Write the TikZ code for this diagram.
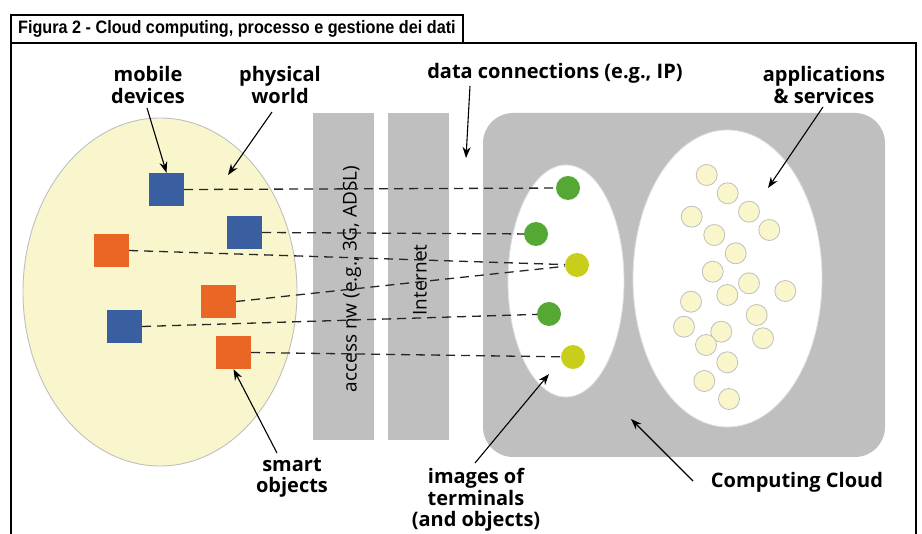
\documentclass[tikz,border=0pt]{standalone}
\usepackage{fontspec}
\setmainfont{Open Sans}
\newfontfamily\titlefont[FakeStretch=0.9]{Liberation Sans}
\usetikzlibrary{arrows.meta}
\usetikzlibrary{positioning}

\definecolor{worldyellow}{HTML}{F9F6CD}
\definecolor{barsgray}{HTML}{BEBFBE}
\definecolor{devblue}{HTML}{3A5FA0}
\definecolor{objorange}{HTML}{EA6624}
\definecolor{imggreen}{HTML}{56A834}
\definecolor{imgyellow}{HTML}{C8CE1A}
\definecolor{appyellow}{HTML}{FAF6CC}

\tikzset{
  device/.style={fill=devblue, minimum width=35pt, minimum height=33pt, inner sep=0pt},
  object/.style={device, fill=objorange},
  terminal/.style={circle, fill=imggreen, minimum size=24pt, inner sep=0pt},
  app/.style={circle, draw=black!25, line width=0.8pt, fill=appyellow, minimum size=21pt, inner sep=0pt},
  bar/.style={fill=barsgray, minimum width=61pt, minimum height=327pt, inner sep=0pt},
  link/.style={dash pattern=on 9pt off 6pt, line width=1.3pt, black!85},
  pointer/.style={-{Stealth[length=11pt,width=8pt]}, line width=1.1pt},
  lbl/.style={font=\bfseries\fontsize{20}{21.5}\selectfont, align=center, inner sep=0pt},
  bartxt/.style={rotate=90, font=\fontsize{19}{21}\selectfont},
}

\begin{document}
\begin{tikzpicture}[x=1pt, y=-1pt]
  \useasboundingbox (0,0) rectangle (922,534);

  % frame and title
  \draw[line width=1.2pt] (11,534) -- (11,15) -- (463,15) -- (463,43);
  \draw[line width=1.2pt] (11,43) -- (916,43) -- (916,534);
  \node[anchor=west, inner sep=0pt, font=\titlefont\bfseries\fontsize{18}{20}\selectfont]
    (title) at (18,29) {Figura 2 - Cloud computing, processo e gestione dei dati};

  % physical world
  \draw[draw=black!25, fill=worldyellow, line width=0.9pt] (160,292) ellipse [x radius=137, y radius=174];

  % networks
  \node[bar] (access) at (343.5,276.5) {};
  \node[bar] (inet) at (418,276.5) {};
  \node[bartxt] (accesstxt) at (352,279) {access nw (e.g., 3G, ADSL)};
  \node[bartxt] (inettxt) at (420,280) {Internet};

  % computing cloud
  \fill[barsgray, rounded corners=30pt] (483,113) rectangle (885,457);
  \draw[draw=black!12, fill=white, line width=0.8pt] (566,281) ellipse [x radius=58, y radius=116];
  \draw[draw=black!12, fill=white, line width=0.8pt] (727.5,278.5) ellipse [x radius=94.5, y radius=148.5];

  % applications
  \foreach \x/\y [count=\i] in {706.7/175, 727.7/193.3, 691.7/216.7, 749/211.7, 769.3/230,
      714.3/235, 735.7/253.3, 712.7/271.7, 749/283.3, 727.3/295, 691/301.7, 785.3/291,
      756.7/315, 684/326.7, 721.3/331.7, 706/345, 763/338.3, 727.3/362.3, 704.3/381, 729/399}
    \node[app] (app\i) at (\x,\y) {};

  % terminals and objects
  \node[device] (d1) at (166.5,189.5) {};
  \node[device] (d2) at (244.5,232.5) {};
  \node[object] (o1) at (111.5,250.5) {};
  \node[object] (o2) at (218.5,301.5) {};
  \node[device] (d3) at (124.5,326.5) {};
  \node[object] (o3) at (233.5,352.5) {};

  % their images
  \node[terminal] (t1) at (568,188) {};
  \node[terminal] (t2) at (536,234) {};
  \node[terminal, fill=imgyellow] (t3) at (577,265) {};
  \node[terminal] (t4) at (549,314) {};
  \node[terminal, fill=imgyellow] (t5) at (573,357) {};

  \draw[link] (d1.east) -- (t1);
  \draw[link] (d2.east) -- (t2);
  \draw[link] (o1.east) -- (t3);
  \draw[link] (o2.east) -- (t3);
  \draw[link] (d3.east) -- (t4);
  \draw[link] (o3.east) -- (t5);

  % labels
  \node[lbl] (mobile) at (148,85) {mobile\\devices};
  \node[lbl] (world) at (280,85) {physical\\world};
  \node[lbl] (conn) at (555,73) {data connections (e.g., IP)};
  \node[lbl] (apps) at (824,85) {applications\\\& services};
  \node[lbl] (smart) at (292,478) {smart\\objects};
  \node[lbl] (images) at (476,500) {images of\\terminals\\(and objects)};
  \node[lbl] (cloud) at (797,482) {Computing Cloud};

  \coordinate (worldtip) at (228,175);
  \coordinate (conntip) at (466,158);
  \coordinate (appstip) at (768,188);
  \coordinate (imgtip) at (549,374);
  \coordinate (cloudtip) at (631,419);

  \draw[pointer] (147,108) -- (d1.north);
  \draw[pointer] (272,112) -- (worldtip);
  \draw[pointer] (470,86) -- (conntip);
  \draw[pointer] (823,107) -- (appstip);
  \draw[pointer] (277,453) -- (o3.south);
  \draw[pointer] (475,463) -- (imgtip);
  \draw[pointer] (693,481) -- (cloudtip);
\end{tikzpicture}
\end{document}
